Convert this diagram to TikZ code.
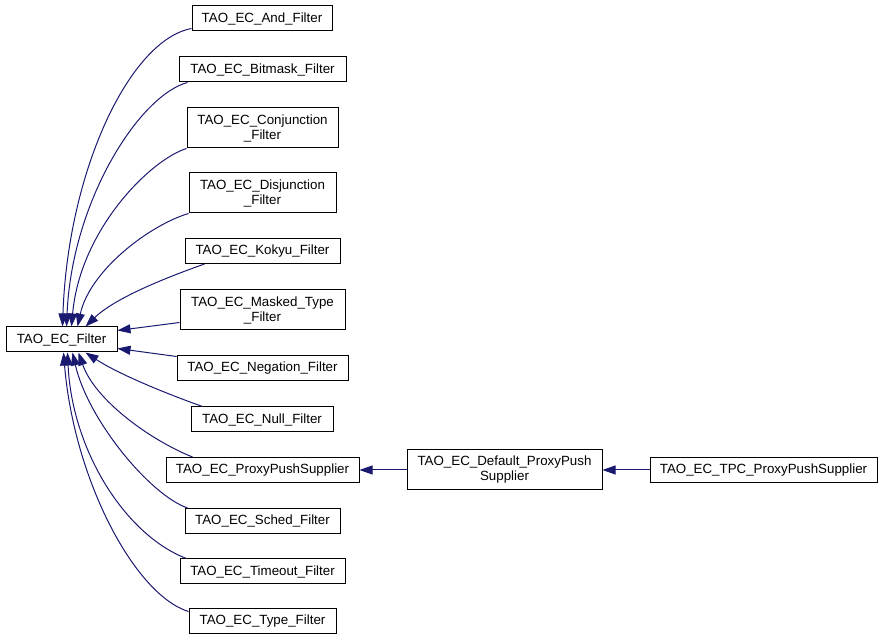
\documentclass[tikz,border=0pt]{standalone}
\usepackage{fontspec}
\setmainfont{Liberation Sans}
\usetikzlibrary{arrows.meta,calc}
\definecolor{edgeblue}{HTML}{191970}
\begin{document}
\begin{tikzpicture}[x=0.75pt,y=-0.75pt,
  box/.style={draw=black,line width=0.75pt,fill=white,inner sep=0pt,align=center,
    font=\fontsize{10}{11.25}\selectfont},
  edge/.style={draw=edgeblue,line width=0.75pt,-{Triangle[length=9.75pt,width=6.75pt]}}]
\useasboundingbox (0,0) rectangle (883,641);
% nodes
\node[box,minimum width=83.25pt,minimum height=18.75pt] (filter) at (61.5,339.5) {TAO\_EC\_Filter};
\node[box,minimum width=105pt,minimum height=18.75pt] (and) at (262,18.5) {TAO\_EC\_And\_Filter};
\node[box,minimum width=125.25pt,minimum height=18.75pt] (bitmask) at (262.5,69.5) {TAO\_EC\_Bitmask\_Filter};
\node[box,minimum width=113.25pt,minimum height=30pt] (conj) at (262.5,128) {TAO\_EC\_Conjunction\\\_Filter};
\node[box,minimum width=110.25pt,minimum height=30pt] (disj) at (262.5,193) {TAO\_EC\_Disjunction\\\_Filter};
\node[box,minimum width=116.25pt,minimum height=18.75pt] (kokyu) at (262.5,251) {TAO\_EC\_Kokyu\_Filter};
\node[box,minimum width=123.75pt,minimum height=30pt] (masked) at (262.5,310) {TAO\_EC\_Masked\_Type\\\_Filter};
\node[box,minimum width=128.25pt,minimum height=18.75pt] (negation) at (262.5,368.5) {TAO\_EC\_Negation\_Filter};
\node[box,minimum width=106.5pt,minimum height=18.75pt] (null) at (262,419.5) {TAO\_EC\_Null\_Filter};
\node[box,minimum width=144.75pt,minimum height=18.75pt] (pps) at (262.5,470) {TAO\_EC\_ProxyPushSupplier};
\node[box,minimum width=116.25pt,minimum height=18.75pt] (sched) at (262.5,521) {TAO\_EC\_Sched\_Filter};
\node[box,minimum width=123.75pt,minimum height=18.75pt] (timeout) at (262.5,571.5) {TAO\_EC\_Timeout\_Filter};
\node[box,minimum width=110.25pt,minimum height=18.75pt] (type) at (262.5,621.5) {TAO\_EC\_Type\_Filter};
\node[box,minimum width=146.25pt,minimum height=30pt] (default) at (504.5,470) {TAO\_EC\_Default\_ProxyPush\\Supplier};
\node[box,minimum width=170.25pt,minimum height=18.75pt] (tpc) at (763.5,470) {TAO\_EC\_TPC\_ProxyPushSupplier};
% edges
\draw[edge] ($(and.south west)+(0,-3)$) .. controls (130,40) and (68,170) .. ($(filter.north west)+(57,0)$);
\draw[edge] ($(bitmask.south west)+(9,0)$) .. controls (140,95) and (72,200) .. ($(filter.north west)+(61,0)$);
\draw[edge] (conj.south west) .. controls (150,160) and (80,230) .. ($(filter.north west)+(66,0)$);
\draw[edge] (disj.south west) .. controls (150,225) and (90,270) .. ($(filter.north west)+(72,0)$);
\draw[edge] ($(kokyu.south west)+(20,0)$) .. controls (165,278) and (115,298) .. ($(filter.north west)+(80,0)$);
\draw[edge] ($(masked.south west)+(0,-8)$) -- ($(filter.north east)+(0,4)$);
\draw[edge] ($(negation.north west)+(0,1)$) -- ($(filter.south east)+(0,-4)$);
\draw[edge] ($(null.north west)+(12,0)$) .. controls (170,395) and (120,375) .. ($(filter.south west)+(80,0)$);
\draw[edge] ($(pps.north west)+(27,0)$) .. controls (150,440) and (95,400) .. ($(filter.south west)+(73,0)$);
\draw[edge] ($(sched.north west)+(3,0)$) .. controls (150,495) and (88,420) .. ($(filter.south west)+(67,0)$);
\draw[edge] ($(timeout.north west)+(7,0)$) .. controls (125,535) and (72,450) .. ($(filter.south west)+(62,0)$);
\draw[edge] ($(type.north west)+(0,3)$) .. controls (135,595) and (74,480) .. ($(filter.south west)+(58,0)$);
\draw[edge] (default.west) -- (pps.east);
\draw[edge] (tpc.west) -- (default.east);
\end{tikzpicture}
\end{document}
